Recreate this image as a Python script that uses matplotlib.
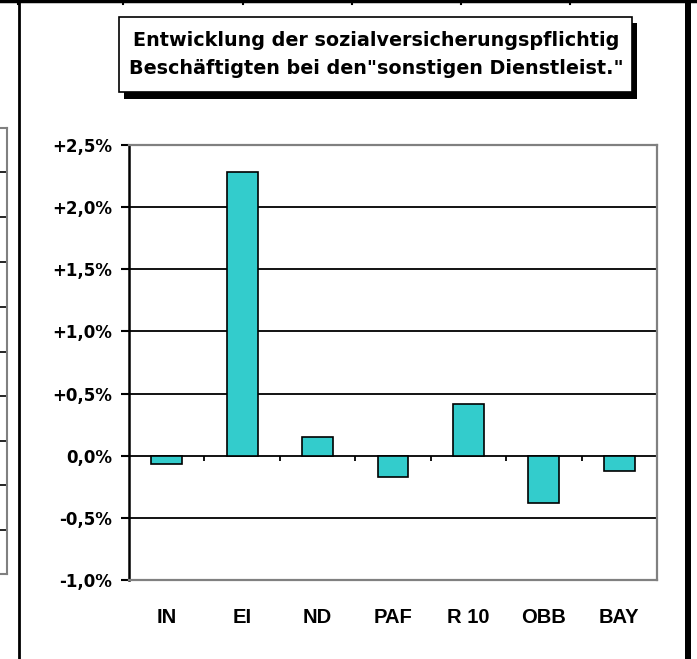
import matplotlib.pyplot as plt
import numpy as np
from matplotlib.patches import Rectangle

# data (change in %)
regions = ["IN", "EI", "ND", "PAF", "R 10", "OBB", "BAY"]
change = [-0.07, 2.28, 0.15, -0.17, 0.42, -0.38, -0.12]
y_ticks = [-1.0, -0.5, 0.0, 0.5, 1.0, 1.5, 2.0, 2.5]
y_labels = ["-1,0%", "-0,5%", "0,0%", "+0,5%", "+1,0%", "+1,5%", "+2,0%", "+2,5%"]
title_lines = ["Entwicklung der sozialversicherungspflichtig",
               "Beschäftigten bei den\"sonstigen Dienstleist.\""]

W, H = 697, 659
plt.rcParams["font.family"] = ["Liberation Sans", "DejaVu Sans"]
plt.rcParams["font.weight"] = "bold"
wide = ["DejaVu Sans"]  # the old chart renders this text wider than Arial

fig = plt.figure(figsize=(W / 100, H / 100), dpi=100)

# page decoration drawn in pixel coordinates
deco = fig.add_axes([0, 0, 1, 1], zorder=0)
deco.set_xlim(0, W)
deco.set_ylim(H, 0)
deco.axis("off")
deco.plot([0, W], [1, 1], color="black", lw=2.5)
for x in [18, 123, 243, 352, 461, 570]:
    deco.plot([x, x], [0, 4], color="black", lw=1.5)
deco.plot([19, 19], [0, H], color="black", lw=2)
deco.add_patch(Rectangle((685, 0), 6, H, color="black", lw=0))
# remains of a table on the left edge
rows = [128, 172, 217, 262, 307, 352, 396, 441, 485, 530, 574]
for y in rows:
    deco.plot([0, 7], [y, y], color="black", lw=1.2)
deco.plot([7, 7], [128, 574], color="#808080", lw=1.5)
deco.plot([0, 7], [128, 128], color="#808080", lw=1.5)
deco.plot([0, 7], [574, 574], color="#808080", lw=1.5)

# title box with shadow
deco.add_patch(Rectangle((124, 23), 513, 76, color="black", lw=0))
deco.add_patch(Rectangle((119, 17), 513, 75, facecolor="white",
                         edgecolor="black", lw=1.2))
deco.text(376, 46, title_lines[0], ha="center", va="baseline",
          fontsize=13.8, family=wide, fontweight="bold")
deco.text(376, 74, title_lines[1], ha="center", va="baseline",
          fontsize=13.8, family=wide, fontweight="bold")

ax = fig.add_axes([129 / W, 1 - 580 / H, 528 / W, 435 / H], zorder=1)
ax.patch.set_alpha(0)
x = np.arange(len(regions))
ax.bar(x, change, width=0.41, color="#33CCCC", edgecolor="black",
       linewidth=1.2, zorder=3)
ax.set_xlim(-0.5, len(regions) - 0.5)
ax.set_ylim(-1.0, 2.5)
ax.set_yticks(y_ticks)
ax.set_yticklabels(y_labels, fontsize=12, fontweight="bold", family=wide)
ax.set_xticks(x)
ax.set_xticklabels(regions, fontsize=14.5, fontweight="bold")
ax.tick_params(axis="x", length=0, pad=20)
ax.tick_params(axis="y", length=6, width=1.5, pad=6, direction="out")
for v in y_ticks[1:-1]:
    ax.axhline(v, color="black", lw=1.3, zorder=1)
ax.vlines(np.arange(0.5, len(regions)), 0, -0.045, color="black", lw=1.3, zorder=2)
ax.spines["left"].set_linewidth(1.8)
for s in ["top", "right", "bottom"]:
    ax.spines[s].set_color("#808080")
    ax.spines[s].set_linewidth(1.6)

fig.savefig("out.png", dpi=100)
